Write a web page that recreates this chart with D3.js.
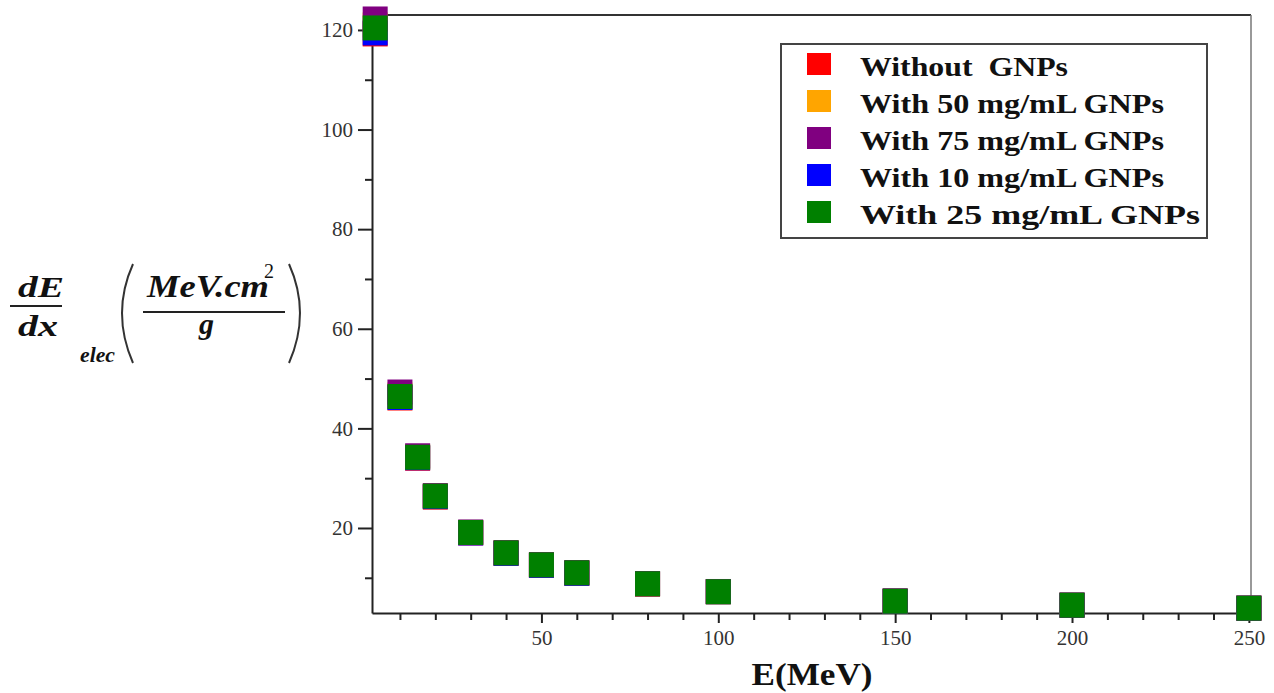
<!DOCTYPE html>
<html>
<head>
<meta charset="utf-8">
<script src="https://cdn.jsdelivr.net/npm/d3@7"></script>
<style>
  html, body { margin: 0; padding: 0; background: #fff; }
  svg { display: block; }
</style>
</head>
<body>
<svg id="chart" width="1274" height="693"></svg>
<script>
// ---- data ----
const energies = [3, 10, 15, 20, 30, 40, 50, 60, 80, 100, 150, 200, 250];
const withoutGNPs = [119.2, 46.1, 34.0, 26.2, 19.0, 14.9, 12.5, 10.9, 8.7, 7.2, 5.3, 4.5, 3.9];
const with50 = [121.0, 46.7, 34.3, 26.4, 19.1, 15.0, 12.6, 11.0, 8.8, 7.2, 5.3, 4.5, 3.9];
const with10 = [119.4, 46.2, 34.1, 26.3, 19.0, 14.9, 12.5, 10.9, 8.8, 7.2, 5.3, 4.5, 3.9];
const with75 = [122.2, 47.3, 34.5, 26.5, 19.2, 15.05, 12.65, 11.05, 8.85, 7.25, 5.35, 4.5, 3.9];
const with25 = [120.4, 46.4, 34.2, 26.4, 19.1, 15.0, 12.6, 11.0, 8.8, 7.2, 5.3, 4.5, 3.9];
const seriesNames = ["Without  GNPs", "With 50 mg/mL GNPs", "With 75 mg/mL GNPs", "With 10 mg/mL GNPs", "With 25 mg/mL GNPs"];
const seriesColors = ["#ff0000", "#ffa500", "#800080", "#0000ff", "#008000"];
const seriesValues = [withoutGNPs, with50, with75, with10, with25];
const drawOrder = [0, 1, 3, 2, 4];
const xMajorTicks = [50, 100, 150, 200, 250];
const xMinorTicks = [10, 20, 30, 40, 60, 70, 80, 90, 110, 120, 130, 140, 160, 170, 180, 190, 210, 220, 230, 240];
const yMajorTicks = [20, 40, 60, 80, 100, 120];
const yMinorTicks = [10, 30, 50, 70, 90, 110];

// ---- layout ----
const L = 372, R = 1251, T = 15, B = 613;
const svg = d3.select("#chart");
const x = d3.scaleLinear().domain([2.1, 250.6]).range([L, R]);
const y = d3.scaleLinear().domain([2.93, 123.0]).range([B, T]);
const serif = "'Liberation Serif', 'Times New Roman', serif";

// frame (top / right)
svg.append("line").attr("x1", L).attr("x2", R).attr("y1", T).attr("y2", T)
  .attr("stroke", "#333").attr("stroke-width", 2);
svg.append("line").attr("x1", R).attr("x2", R).attr("y1", T).attr("y2", B)
  .attr("stroke", "#777").attr("stroke-width", 1.5);

// x axis
const gx = svg.append("g").attr("transform", `translate(0,${B})`);
gx.call(d3.axisBottom(x).tickValues(xMajorTicks).tickSize(10).tickSizeOuter(0).tickFormat(d3.format("d")));
gx.append("g").call(d3.axisBottom(x).tickValues(xMinorTicks).tickSize(7).tickFormat(""))
  .select(".domain").remove();
gx.selectAll("path.domain").attr("stroke", "#222").attr("stroke-width", 2);
gx.selectAll(".tick line").attr("stroke", "#222").attr("stroke-width", 2);
gx.selectAll(".tick text").attr("font-family", serif).attr("font-size", 21).attr("fill", "#333").attr("dy", "1.0em").attr("y", 11);

// y axis
const gy = svg.append("g").attr("transform", `translate(${L},0)`);
gy.call(d3.axisLeft(y).tickValues(yMajorTicks).tickSize(14).tickSizeOuter(0).tickFormat(d3.format("d")));
gy.append("g").call(d3.axisLeft(y).tickValues(yMinorTicks).tickSize(7).tickFormat(""))
  .select(".domain").remove();
gy.selectAll("path.domain").attr("stroke", "#222").attr("stroke-width", 2);
gy.selectAll(".tick line").attr("stroke", "#222").attr("stroke-width", 2);
gy.selectAll(".tick text").attr("font-family", serif).attr("font-size", 21).attr("fill", "#333").attr("x", -19);

// markers
const S = 25;
drawOrder.forEach(si => {
  const pts = energies.map((e, i) => ({ e, v: seriesValues[si][i] }));
  svg.append("g").selectAll("rect").data(pts).join("rect")
    .attr("x", d => x(d.e) - S / 2)
    .attr("y", d => y(d.v) - S / 2)
    .attr("width", S).attr("height", S)
    .attr("fill", seriesColors[si]);
});

// legend
const lg = svg.append("g");
lg.append("rect").attr("x", 781).attr("y", 44).attr("width", 426).attr("height", 194)
  .attr("fill", "#fff").attr("stroke", "#444").attr("stroke-width", 2);
const legendWidths = [208, 304, 304, 304, 340];
seriesNames.forEach((name, i) => {
  const by = 76 + i * 37;
  lg.append("rect").attr("x", 807).attr("y", by - 23).attr("width", 24).attr("height", 22)
    .attr("fill", seriesColors[i]);
  lg.append("text").attr("x", 860).attr("y", by)
    .attr("font-family", serif).attr("font-weight", "bold").attr("font-size", 28)
    .attr("fill", "#111")
    .attr("textLength", legendWidths[i]).attr("lengthAdjust", "spacingAndGlyphs")
    .style("white-space", "pre")
    .text(name);
});

// x axis title
svg.append("text").attr("x", 812).attr("y", 685).attr("text-anchor", "middle")
  .attr("font-family", serif).attr("font-weight", "bold").attr("font-size", 32).attr("fill", "#111")
  .attr("textLength", 121).attr("lengthAdjust", "spacingAndGlyphs")
  .text("E(MeV)");

// y axis title (math expression)
const yl = svg.append("g").attr("font-family", serif).attr("font-weight", "bold")
  .attr("font-style", "italic").attr("fill", "#111");
yl.append("text").attr("x", 18).attr("y", 297).attr("font-size", 30)
  .attr("textLength", 46).attr("lengthAdjust", "spacingAndGlyphs").text("dE");
yl.append("line").attr("x1", 10).attr("x2", 62).attr("y1", 306).attr("y2", 306)
  .attr("stroke", "#222").attr("stroke-width", 2);
yl.append("text").attr("x", 18).attr("y", 336).attr("font-size", 30)
  .attr("textLength", 40).attr("lengthAdjust", "spacingAndGlyphs").text("dx");
yl.append("text").attr("x", 80).attr("y", 362).attr("font-size", 21)
  .attr("textLength", 35).attr("lengthAdjust", "spacingAndGlyphs").text("elec");
yl.append("text").attr("x", 147).attr("y", 297).attr("font-size", 31)
  .attr("textLength", 122).attr("lengthAdjust", "spacingAndGlyphs").text("MeV.cm");
yl.append("text").attr("x", 264).attr("y", 278).attr("font-size", 20)
  .attr("font-style", "normal").attr("font-weight", "normal").text("2");
yl.append("line").attr("x1", 143).attr("x2", 285).attr("y1", 312).attr("y2", 312)
  .attr("stroke", "#222").attr("stroke-width", 2);
yl.append("text").attr("x", 199).attr("y", 334).attr("font-size", 30).text("g");
// parentheses
const lp = d3.path();
lp.moveTo(133, 264); lp.quadraticCurveTo(111, 313, 133, 363);
yl.append("path").attr("d", lp.toString()).attr("fill", "none").attr("stroke", "#333").attr("stroke-width", 2);
const rp = d3.path();
rp.moveTo(289, 264); rp.quadraticCurveTo(311, 313, 289, 363);
yl.append("path").attr("d", rp.toString()).attr("fill", "none").attr("stroke", "#333").attr("stroke-width", 2);
</script>
</body>
</html>
